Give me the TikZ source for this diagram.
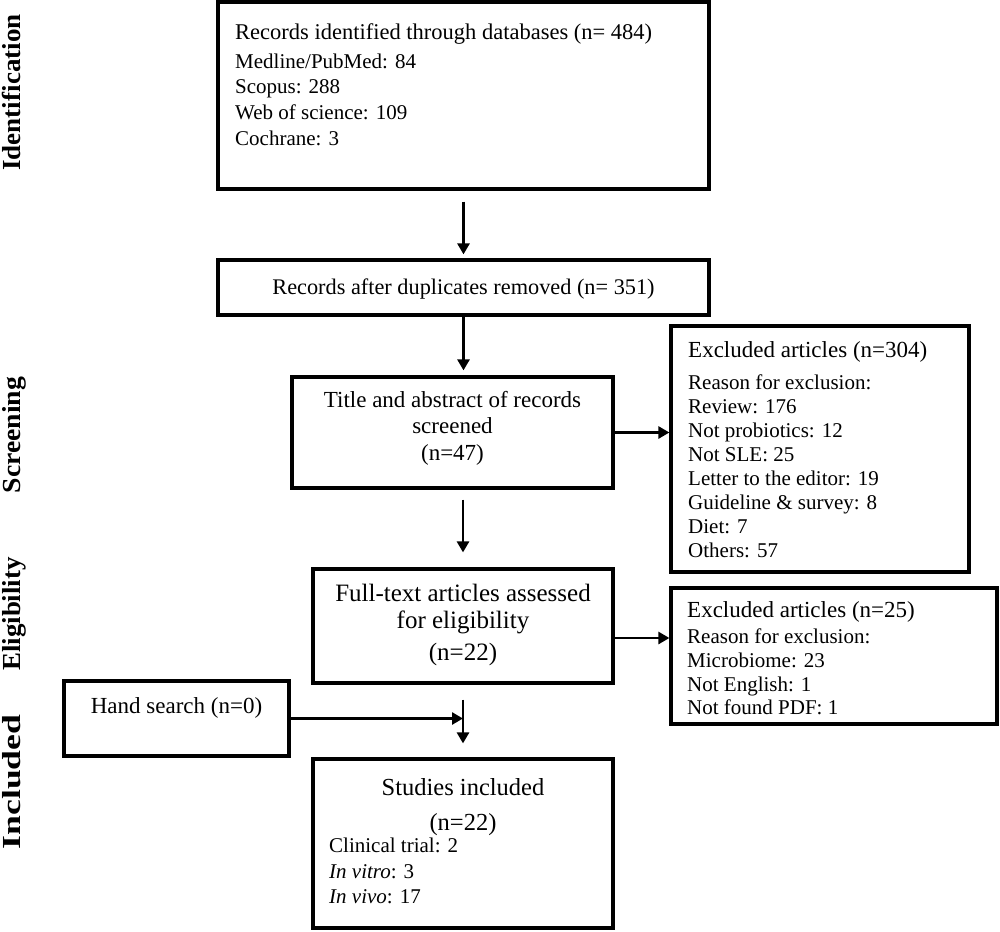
\documentclass[tikz,border=0pt]{standalone}
\usepackage{fontspec}
\setmainfont{Liberation Serif}
\usetikzlibrary{arrows.meta,calc}
\begin{document}
\begin{tikzpicture}[x=1pt,y=-1pt,
  box/.style={draw=black, line width=3.2pt, inner sep=0pt},
  arr/.style={draw=black, line width=2.6pt, -{Triangle[length=11pt,width=12pt]}},
  plainline/.style={draw=black, line width=2.6pt},
  lab/.style={font=\fontsize{26}{28}\selectfont\bfseries, rotate=90, anchor=base, inner sep=0pt},
  tN/.style={font=\fontsize{21}{24}\selectfont, inner sep=0pt, anchor=base west},
  tH/.style={font=\fontsize{22.5}{26}\selectfont, inner sep=0pt, anchor=base west},
  tC/.style={font=\fontsize{23}{26}\selectfont, inner sep=0pt, anchor=base},
  tL/.style={font=\fontsize{25}{28}\selectfont, inner sep=0pt, anchor=base}
]
\useasboundingbox (0,0) rectangle (1000,931);

% stage labels
\node[lab] (lid) at (20,92.5) {\scalebox{1.04}[1]{Identification}};
\node[lab] (lsc) at (20,435) {\scalebox{1.065}[1]{Screening}};
\node[lab] (lel) at (20,614) {\scalebox{1.035}[1]{Eligibility}};
\node[lab] (lin) at (20,782) {\scalebox{1.37}[1]{Included}};

% boxes
\node[box, minimum width=491pt, minimum height=187pt] (b1) at (463.5,95.5) {};
\node[box, minimum width=491pt, minimum height=55pt] (b2) at (463.5,287.5) {};
\node[box, minimum width=321pt, minimum height=111pt] (b3) at (452.5,432.5) {};
\node[box, minimum width=300pt, minimum height=114pt] (b4) at (463,626) {};
\node[box, minimum width=298pt, minimum height=246pt] (e1) at (820,449) {};
\node[box, minimum width=326pt, minimum height=136pt] (e2) at (834,656) {};
\node[box, minimum width=225pt, minimum height=75pt] (hs) at (176.5,718.5) {};
\node[box, minimum width=300pt, minimum height=169pt] (st) at (463,843.5) {};

% box 1 text
\node[tH] (t11) at (235,40) {Records identified through databases (n= 484)};
\node[tN] (t12) at (235,69) {Medline/PubMed: 84};
\node[tN] (t13) at (235,94) {Scopus: 288};
\node[tN] (t14) at (235,120) {Web of science: 109};
\node[tN] (t15) at (235,145) {Cochrane: 3};

% box 2 text
\node[tC, font=\fontsize{22.3}{26}\selectfont] (t21) at (463.5,294) {Records after duplicates removed (n= 351)};

% box 3 text
\node[tC] (t31) at (452.5,407) {Title and abstract of records};
\node[tC] (t32) at (452.5,433) {screened};
\node[tC] (t33) at (452.5,460) {(n=47)};

% box 4 text
\node[tL] (t41) at (463,601) {Full-text articles assessed};
\node[tL] (t42) at (463,628) {for eligibility};
\node[tL] (t43) at (463,660) {(n=22)};

% excluded 1 text
\node[tH, font=\fontsize{23}{26}\selectfont] (e11) at (688,357) {Excluded articles (n=304)};
\node[tN] (e12) at (688,389) {Reason for exclusion:};
\node[tN] (e13) at (688,413) {Review: 176};
\node[tN] (e14) at (688,437) {Not probiotics: 12};
\node[tN] (e15) at (688,461) {Not SLE: 25};
\node[tN] (e16) at (688,485) {Letter to the editor: 19};
\node[tN] (e17) at (688,509) {Guideline \& survey: 8};
\node[tN] (e18) at (688,533) {Diet: 7};
\node[tN] (e19) at (688,557) {Others: 57};

% excluded 2 text
\node[tH, font=\fontsize{23}{26}\selectfont] (e21) at (687,617) {Excluded articles (n=25)};
\node[tN] (e22) at (687,643) {Reason for exclusion:};
\node[tN] (e23) at (687,667) {Microbiome: 23};
\node[tN] (e24) at (687,691) {Not English: 1};
\node[tN] (e25) at (687,714) {Not found PDF: 1};

% hand search text
\node[tC] (h1) at (176.5,713) {Hand search (n=0)};

% studies text
\node[tL, font=\fontsize{24.5}{28}\selectfont] (s1) at (463,795) {Studies included};
\node[tL, font=\fontsize{24.5}{28}\selectfont] (s2) at (463,830) {(n=22)};
\node[tN] (s3) at (329,852) {Clinical trial: 2};
\node[tN] (s4) at (329,878) {\textit{In vitro}: 3};
\node[tN] (s5) at (329,903) {\textit{In vivo}: 17};

% connectors
\draw[arr] ($(b1.south)+(0,11)$) -- ($(b2.north)+(0,-4)$);
\draw[arr] (b2.south) -- ($(b2.south |- b3.north)+(0,-5)$);
\draw[arr] (b3.east) -- (b3.east -| e1.west);
\draw[arr] ($(b4.north |- b3.south)+(0,10)$) -- ($(b4.north)+(0,-15)$);
\draw[arr] ($(b4.east)+(0,12)$) -- ($(b4.east -| e2.west)+(0,12)$);
\coordinate (junc) at ($(b4.south)+(0,15)$);
\draw[arr] (junc) -- ($(st.north)+(0,-14)$);
\draw[arr] (hs.east) -- (hs.east -| junc);
\end{tikzpicture}
\end{document}
